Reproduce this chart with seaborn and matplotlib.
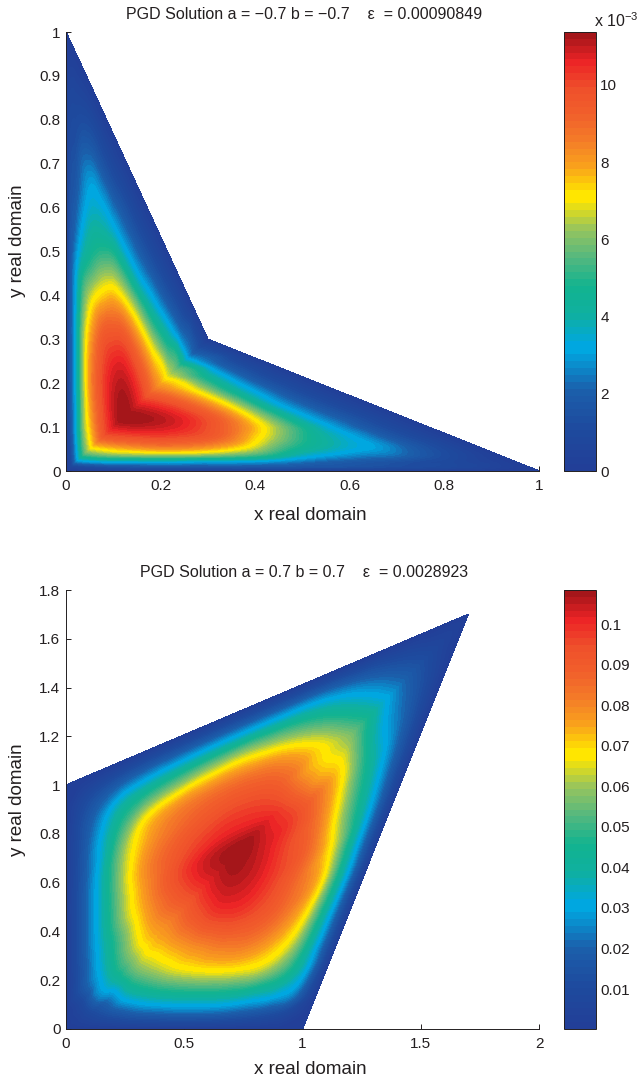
import numpy as np
import matplotlib
matplotlib.use('Agg')
import matplotlib.pyplot as plt
import matplotlib.tri as mtri
from matplotlib.cm import ScalarMappable
from matplotlib.colors import ListedColormap, Normalize
import seaborn as sns

# corner of the physical quad, the other corners are (0,0), (1,0), (0,1)
corner_top = 0.3
corner_bottom = 1.7

# values (units of 1e-3), rows = eta, columns = xi
nodes_top = [0, .03, .07, .12, .18, .26, .33, .40, .50, .60, .70, .79, .88, 1]
values_top = [
    [0, 0, 0, 0, 0, 0, 0, 0, 0, 0, 0, 0, 0, 0],
    [0, .5, .9, 1.2, 1.4, 1.5, 1.5, 1.5, 1.5, 1.4, 1.2, 1.0, .7, 0],
    [0, .9, 2.4, 3.0, 3.1, 3.2, 3.0, 3.0, 2.6, 2.0, 1.6, 1.2, .8, 0],
    [0, 1.2, 3.0, 5.0, 5.8, 6.0, 6.0, 5.8, 5.0, 3.4, 2.6, 2.2, 1.2, 0],
    [0, 1.4, 3.2, 5.8, 7.1, 8.0, 8.4, 8.2, 7.1, 5.0, 3.7, 2.9, 1.5, 0],
    [0, 1.5, 3.3, 6.0, 8.0, 9.5, 9.9, 10.0, 9.3, 6.9, 4.6, 3.1, 1.5, 0],
    [0, 1.5, 3.3, 6.1, 8.4, 9.9, 10.7, 10.9, 10.3, 8.4, 5.6, 3.2, 1.5, 0],
    [0, 1.5, 3.3, 6.0, 8.2, 10.0, 10.9, 11.37, 10.9, 9.3, 6.2, 3.3, 1.6, 0],
    [0, 1.5, 3.0, 5.2, 7.1, 9.3, 10.3, 10.9, 10.7, 9.5, 6.8, 3.5, 1.6, 0],
    [0, 1.4, 2.2, 3.6, 5.0, 6.9, 8.4, 9.3, 9.5, 9.0, 7.0, 4.0, 1.7, 0],
    [0, 1.2, 1.7, 2.7, 3.8, 4.6, 5.6, 6.2, 6.8, 7.0, 7.1, 4.6, 1.9, 0],
    [0, 1.0, 1.3, 2.2, 2.9, 3.1, 3.2, 3.3, 3.5, 4.0, 4.6, 5.3, 2.2, 0],
    [0, .7, .9, 1.2, 1.5, 1.5, 1.5, 1.6, 1.6, 1.7, 1.9, 2.2, 2.3, 0],
    [0, 0, 0, 0, 0, 0, 0, 0, 0, 0, 0, 0, 0, 0],
]

# same for the bottom panel
nodes_bottom = [0, .04, .08, .14, .20, .28, .36, .44, .52, .62, .72, .82, .90, 1]
values_bottom = [
    [0, 0, 0, 0, 0, 0, 0, 0, 0, 0, 0, 0, 0, 0],
    [0, .006, .010, .014, .017, .020, .021, .022, .022, .021, .018, .014, .009, 0],
    [0, .009, .024, .026, .034, .038, .040, .041, .041, .040, .036, .031, .024, 0],
    [0, .015, .028, .047, .055, .060, .064, .066, .067, .066, .062, .050, .034, 0],
    [0, .015, .030, .052, .068, .073, .077, .080, .082, .081, .074, .060, .036, 0],
    [0, .016, .031, .054, .073, .085, .093, .098, .098, .093, .084, .067, .038, 0],
    [0, .016, .032, .058, .076, .092, .102, .106, .104, .097, .086, .071, .040, 0],
    [0, .016, .032, .059, .078, .095, .105, .1084, .104, .096, .086, .065, .037, 0],
    [0, .016, .032, .060, .079, .092, .099, .101, .099, .094, .080, .056, .034, 0],
    [0, .015, .030, .058, .075, .086, .092, .094, .091, .074, .070, .047, .028, 0],
    [0, .014, .028, .050, .068, .078, .082, .083, .080, .069, .054, .034, .022, 0],
    [0, .012, .022, .038, .046, .053, .058, .060, .057, .050, .038, .025, .016, 0],
    [0, .008, .014, .021, .025, .028, .030, .031, .031, .030, .024, .016, .010, 0],
    [0, 0, 0, 0, 0, 0, 0, 0, 0, 0, 0, 0, 0, 0],
]

xticks_top = [0, 0.2, 0.4, 0.6, 0.8, 1]
xticklabels_top = ['0', '0.2', '0.4', '0.6', '0.8', '1']
yticks_top = [0, 0.1, 0.2, 0.3, 0.4, 0.5, 0.6, 0.7, 0.8, 0.9, 1]
yticklabels_top = ['0', '0.1', '0.2', '0.3', '0.4', '0.5', '0.6', '0.7', '0.8', '0.9', '1']
cbar_ticks_top = [0, 2, 4, 6, 8, 10]
cbar_labels_top = ['0', '2', '4', '6', '8', '10']
range_top = (0, 11.37)
title_top = 'PGD Solution a = \u22120.7 b = \u22120.7    \u03b5  = 0.00090849'

xticks_bottom = [0, 0.5, 1, 1.5, 2]
xticklabels_bottom = ['0', '0.5', '1', '1.5', '2']
yticks_bottom = [0, 0.2, 0.4, 0.6, 0.8, 1, 1.2, 1.4, 1.6, 1.8]
yticklabels_bottom = ['0', '0.2', '0.4', '0.6', '0.8', '1', '1.2', '1.4', '1.6', '1.8']
cbar_ticks_bottom = [.01, .02, .03, .04, .05, .06, .07, .08, .09, .1]
cbar_labels_bottom = ['0.01', '0.02', '0.03', '0.04', '0.05', '0.06', '0.07', '0.08', '0.09', '0.1']
range_bottom = (0.00015, 0.1084)
title_bottom = 'PGD Solution a = 0.7 b = 0.7    \u03b5  = 0.0028923'

FIG_W, FIG_H = 637, 1081
INK = '#231f20'

sns.set_theme(style='ticks')
plt.rcParams['font.family'] = ['Liberation Sans', 'DejaVu Sans']
plt.rcParams['mathtext.default'] = 'regular'

# print version of jet, 64 steps like the original colorbar
colors = (sns.blend_palette(['#223f98', '#1e4a9e', '#1b5fab', '#00a7e0'], 18)
          + sns.blend_palette(['#00a7e0', '#0fb0a0', '#12b38f', '#54b87f', '#96c45e', '#ffe600'], 22)
          + sns.blend_palette(['#ffe600', '#f9a11c', '#f47c28', '#f15f2b', '#ef4f2b', '#ec2326', '#a5161a'], 24))
jet_print = ListedColormap(colors)


def to_real(xi, eta, c):
    # the unit square is split along its diagonal, each half maps linearly
    lower = xi >= eta
    x = np.where(lower, xi + (c - 1) * eta, c * xi)
    y = np.where(lower, c * eta, eta + (c - 1) * xi)
    return x, y


def pixel_axes(fig, left, top, right, bottom):
    return fig.add_axes([left / FIG_W, 1 - bottom / FIG_H, (right - left) / FIG_W, (bottom - top) / FIG_H])


def draw_field(ax, nodes, values, c, vrange):
    xi, eta = np.meshgrid(nodes, nodes)
    n = len(nodes)
    triangles = []
    for j in range(n - 1):
        for i in range(n - 1):
            a = j * n + i
            triangles.append([a, a + 1, a + n + 1])
            triangles.append([a, a + n + 1, a + n])
    ref = mtri.Triangulation(xi.ravel(), eta.ravel(), triangles)
    z = np.array(values, dtype=float).ravel()
    fine, fine_z = mtri.UniformTriRefiner(ref).refine_field(
        z, mtri.CubicTriInterpolator(ref, z, kind='geom'), subdiv=3)
    x, y = to_real(fine.x, fine.y, c)
    real = mtri.Triangulation(x, y, fine.triangles)
    levels = np.linspace(vrange[0], vrange[1], 65)
    cs = ax.tricontourf(real, np.clip(fine_z, vrange[0], vrange[1]), levels=levels,
                        cmap=jet_print, vmin=vrange[0], vmax=vrange[1], extend='both')
    cs.set_edgecolor('face')
    cs.set_linewidth(0.3)


def style_axes(ax, xlim, ylim, xticks, xlabels, yticks, ylabels, title):
    ax.set_xlim(xlim)
    ax.set_ylim(ylim)
    ax.set_xticks(xticks, xlabels)
    ax.set_yticks(yticks, ylabels)
    ax.tick_params(direction='in', length=3.5, width=0.7, color=INK, labelsize=11, labelcolor=INK, pad=4)
    ax.tick_params(axis='x', pad=6)
    ax.set_axisbelow(True)
    sns.despine(ax=ax)
    for side in ['left', 'bottom']:
        ax.spines[side].set_linewidth(0.7)
        ax.spines[side].set_color(INK)
    ax.set_xlabel('x real domain', fontsize=13.5, color=INK)
    ax.set_ylabel('y real domain', fontsize=13.5, color=INK)
    ax.set_title(title, fontsize=11.5, color=INK, pad=9.5, x=0.503)


def draw_colorbar(fig, cax, vrange, ticks, labels):
    sm = ScalarMappable(Normalize(vrange[0], vrange[1]), jet_print)
    cb = fig.colorbar(sm, cax=cax)
    cb.set_ticks(ticks, labels=labels)
    cb.minorticks_off()
    cax.tick_params(direction='in', length=3.5, width=0.7, color=INK, labelsize=11, labelcolor=INK,
                    left=True, right=True, pad=3)
    cb.outline.set_linewidth(0.7)
    cb.outline.set_edgecolor(INK)


fig = plt.figure(figsize=(FIG_W / 100, FIG_H / 100), dpi=100)

ax1 = pixel_axes(fig, 66, 32, 539, 471)
draw_field(ax1, nodes_top, values_top, corner_top, range_top)
style_axes(ax1, (0, 1), (0, 1), xticks_top, xticklabels_top, yticks_top, yticklabels_top, title_top)
ax1.xaxis.set_label_coords(0.516, -0.082)
ax1.yaxis.set_label_coords(-0.084, 0.524)

ax2 = pixel_axes(fig, 66, 590, 539, 1029)
draw_field(ax2, nodes_bottom, values_bottom, corner_bottom, range_bottom)
style_axes(ax2, (0, 2), (0, 1.8), xticks_bottom, xticklabels_bottom, yticks_bottom, yticklabels_bottom, title_bottom)
ax2.xaxis.set_label_coords(0.516, -0.073)
ax2.yaxis.set_label_coords(-0.084, 0.522)

cax1 = pixel_axes(fig, 564, 32, 596, 471)
draw_colorbar(fig, cax1, range_top, cbar_ticks_top, cbar_labels_top)
fig.text(594 / FIG_W, 1 - 27 / FIG_H, 'x 10$^{\u22123}$', fontsize=11.5, color=INK, ha='left', va='baseline')

cax2 = pixel_axes(fig, 564, 590, 596, 1029)
draw_colorbar(fig, cax2, range_bottom, cbar_ticks_bottom, cbar_labels_bottom)

fig.savefig('out.png', dpi=100)
